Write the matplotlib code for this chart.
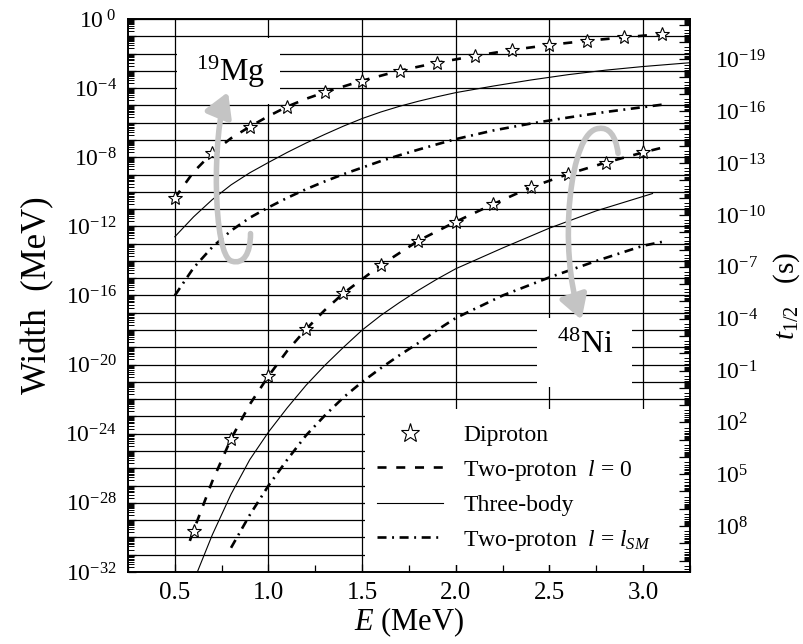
import numpy as np
import matplotlib
matplotlib.use("Agg")
import matplotlib.pyplot as plt
from matplotlib.patches import Rectangle, FancyArrowPatch
from matplotlib.path import Path
from matplotlib.ticker import FixedLocator, FuncFormatter, LogLocator, MultipleLocator, NullFormatter

plt.rcParams["font.family"] = ["Liberation Serif", "DejaVu Serif"]
plt.rcParams["mathtext.fontset"] = "custom"
plt.rcParams["mathtext.rm"] = "Liberation Serif"
plt.rcParams["mathtext.it"] = "Liberation Serif:italic"
plt.rcParams["mathtext.bf"] = "Liberation Serif:bold"
plt.rcParams["lines.scale_dashes"] = False

# hbar*ln2 in MeV s, for the half-life axis
HBAR_LN2 = 4.562e-22

# --- 19Mg, widths as log10(Width / MeV) ---
mg_star_e = [0.5, 0.7, 0.9, 1.1, 1.3, 1.5, 1.7, 1.9, 2.1, 2.3, 2.5, 2.7, 2.9, 3.1]
mg_star_lw = [-10.36, -7.75, -6.23, -5.07, -4.24, -3.57, -2.99, -2.53, -2.14, -1.79, -1.50, -1.26, -1.06, -0.87]

mg_l0_e = [0.5, 0.6, 0.7, 0.8, 0.9, 1.0, 1.1, 1.2, 1.3, 1.5, 1.7, 1.9, 2.1, 2.3, 2.5, 2.7, 2.9, 3.1]
mg_l0_lw = [-10.36, -8.85, -7.75, -6.9, -6.23, -5.62, -5.07, -4.62, -4.24, -3.57, -2.99, -2.53, -2.14,
            -1.79, -1.50, -1.26, -1.06, -0.87]

mg_3b_e = [0.5, 0.6, 0.7, 0.8, 0.9, 1.0, 1.1, 1.2, 1.3, 1.4, 1.5, 1.6, 1.7, 1.8, 1.9, 2.0, 2.2, 2.4, 2.6,
           2.8, 3.0, 3.25]
mg_3b_lw = [-12.6, -11.45, -10.45, -9.6, -8.9, -8.3, -7.72, -7.18, -6.68, -6.2, -5.76, -5.38, -5.05, -4.76,
            -4.5, -4.26, -3.88, -3.53, -3.22, -2.96, -2.75, -2.53]

mg_sm_e = [0.5, 0.6, 0.7, 0.8, 0.9, 1.0, 1.1, 1.2, 1.3, 1.4, 1.5, 1.6, 1.7, 1.8, 1.9, 2.0, 2.2, 2.4, 2.6,
           2.8, 3.0, 3.12]
mg_sm_lw = [-16.0, -14.4, -13.2, -12.25, -11.5, -10.9, -10.35, -9.85, -9.4, -8.98, -8.6, -8.22, -7.88,
            -7.56, -7.25, -6.95, -6.45, -6.05, -5.7, -5.38, -5.1, -4.93]

# --- 48Ni ---
ni_star_e = [0.6, 0.8, 1.0, 1.2, 1.4, 1.6, 1.8, 2.0, 2.2, 2.4, 2.6, 2.8, 3.0]
ni_star_lw = [-29.6, -24.3, -20.66, -17.96, -15.87, -14.24, -12.83, -11.73, -10.71, -9.74, -8.97, -8.31, -7.72]

ni_l0_e = [0.58, 0.6, 0.7, 0.8, 0.9, 1.0, 1.1, 1.2, 1.3, 1.4, 1.6, 1.8, 2.0, 2.2, 2.4, 2.6, 2.8, 3.0, 3.1]
ni_l0_lw = [-30.2, -29.6, -26.75, -24.3, -22.3, -20.66, -19.2, -17.96, -16.85, -15.87, -14.24, -12.83,
            -11.73, -10.71, -9.74, -8.97, -8.31, -7.72, -7.45]

ni_3b_e = [0.62, 0.7, 0.8, 0.9, 1.0, 1.1, 1.2, 1.3, 1.4, 1.5, 1.6, 1.7, 1.8, 1.9, 2.0, 2.25, 2.5, 2.75, 3.05]
ni_3b_lw = [-32.0, -29.85, -27.5, -25.5, -23.9, -22.5, -21.2, -20.05, -19.0, -18.0, -17.15, -16.4, -15.7,
            -15.05, -14.45, -13.25, -12.1, -11.1, -10.1]

ni_sm_e = [0.8, 0.9, 1.0, 1.1, 1.2, 1.3, 1.4, 1.5, 1.6, 1.7, 1.8, 1.9, 2.0, 2.25, 2.5, 2.75, 3.0, 3.1]
ni_sm_lw = [-30.6, -28.7, -27.0, -25.5, -24.1, -22.95, -21.9, -21.0, -20.2, -19.45, -18.75, -18.0, -17.3,
            -16.0, -14.95, -14.0, -13.12, -12.9]

legend_labels = ["Diproton", r"Two-proton  $l$ = 0", "Three-body", r"Two-proton  $l$ = $l_{SM}$"]


def w(lw):
    return 10.0 ** np.asarray(lw)


DASHED = (0, (6.5, 7.0))
DASHDOT = (0, (6.5, 4.0, 1.4, 4.0))

fig = plt.figure(figsize=(8.04, 6.44), dpi=100)
ax = fig.add_axes([0.1592, 0.1118, 0.6990, 0.8587])

ax.set_yscale("log")
ax.set_xlim(0.25, 3.25)
ax.set_ylim(1e-32, 1e0)

star_kw = dict(ls="none", marker="*", ms=10, mfc="white", mec="black", mew=0.8, zorder=3)
h_star, = ax.plot(mg_star_e, w(mg_star_lw), **star_kw)
ax.plot(ni_star_e, w(ni_star_lw), **star_kw)

h_l0, = ax.plot(mg_l0_e, w(mg_l0_lw), color="black", lw=1.9, ls=DASHED)
ax.plot(ni_l0_e, w(ni_l0_lw), color="black", lw=1.9, ls=DASHED)
h_3b, = ax.plot(mg_3b_e, w(mg_3b_lw), color="black", lw=0.8)
ax.plot(ni_3b_e, w(ni_3b_lw), color="black", lw=0.8)
h_sm, = ax.plot(mg_sm_e, w(mg_sm_lw), color="black", lw=1.9, ls=DASHDOT)
ax.plot(ni_sm_e, w(ni_sm_lw), color="black", lw=1.9, ls=DASHDOT)

# axes: x
ax.xaxis.set_major_locator(MultipleLocator(0.5))
ax.xaxis.set_minor_locator(MultipleLocator(0.25))
ax.xaxis.set_major_formatter(FuncFormatter(lambda v, p: f"{v:.1f}"))
ax.tick_params(axis="x", which="both", direction="in", top=False, labelsize=18, pad=7)
ax.tick_params(axis="x", which="major", length=6, width=0.9)
ax.tick_params(axis="x", which="minor", length=5, width=0.9)

# axes: y (width)
ax.yaxis.set_major_locator(FixedLocator(10.0 ** np.arange(-32, 1)))
ax.yaxis.set_minor_locator(LogLocator(base=10, subs=np.arange(2, 10), numticks=200))
ax.yaxis.set_minor_formatter(NullFormatter())


def left_fmt(v, pos):
    e = int(round(np.log10(v)))
    if e % 4:
        return ""
    return r"$10^{\ 0}$" if e == 0 else r"$10^{%d}$" % e


ax.yaxis.set_major_formatter(FuncFormatter(left_fmt))
ax.tick_params(axis="y", which="both", direction="in", right=False, labelsize=17, pad=8)
ax.tick_params(axis="y", which="major", length=6, width=0.9)
ax.tick_params(axis="y", which="minor", length=4, width=0.7)

ax.grid(True, which="major", color="black", lw=0.9)
for s in ax.spines.values():
    s.set_linewidth(1.2)

ax.set_xlabel("$E$ (MeV)", fontsize=22, labelpad=1)
ax.set_ylabel("Width  (MeV)", fontsize=25, labelpad=8)

# half-life axis on the right
ax2 = ax.twinx()
ax2.set_yscale("log")
ax2.set_ylim(HBAR_LN2 / 1e-32, HBAR_LN2 / 1e0)
ax2.yaxis.set_major_locator(FixedLocator(10.0 ** np.arange(-22, 12)))
ax2.yaxis.set_minor_locator(LogLocator(base=10, subs=np.arange(2, 10), numticks=200))
ax2.yaxis.set_minor_formatter(NullFormatter())


def right_fmt(v, pos):
    e = int(round(np.log10(v)))
    if e % 3 != 2 or e < -19 or e > 8:
        return ""
    return r"$10^{%d}$" % e


ax2.yaxis.set_major_formatter(FuncFormatter(right_fmt))
ax2.tick_params(axis="y", which="both", direction="in", labelsize=17, pad=18)
ax2.tick_params(axis="y", which="major", length=8, width=0.9)
ax2.tick_params(axis="y", which="minor", length=4, width=0.7)
ax2.set_ylabel("$t_{1/2}$   (s)", fontsize=21, labelpad=4)
for s in ax2.spines.values():
    s.set_linewidth(1.2)

# white patches behind labels and legend
for x0, y0, bw, bh in [(0.087, 0.846, 0.183, 0.120), (0.728, 0.335, 0.169, 0.124), (0.422, 0.012, 0.578, 0.283)]:
    ax.add_patch(Rectangle((x0, y0), bw, bh, transform=ax.transAxes, facecolor="white",
                           edgecolor="none", zorder=1.7))

ax.text(0.183, 0.904, r"$^{19}$Mg", transform=ax.transAxes, fontsize=23, ha="center", va="center", zorder=5)
ax.text(0.814, 0.410, r"$^{48}$Ni", transform=ax.transAxes, fontsize=23, ha="center", va="center", zorder=5)

# curved gray arrows
C4 = Path.CURVE4
mg_arrow = Path([(0.218, 0.612), (0.218, 0.575), (0.205, 0.556), (0.185, 0.562),
                 (0.150, 0.570), (0.150, 0.800), (0.178, 0.868)],
                [Path.MOVETO, C4, C4, C4, C4, C4, C4])
ni_arrow = Path([(0.872, 0.757), (0.868, 0.790), (0.855, 0.805), (0.838, 0.802),
                 (0.785, 0.800), (0.765, 0.580), (0.807, 0.456)],
                [Path.MOVETO, C4, C4, C4, C4, C4, C4])
for p in (mg_arrow, ni_arrow):
    ax.add_patch(FancyArrowPatch(path=p, arrowstyle="-|>,head_length=0.6,head_width=0.35",
                                 mutation_scale=24, lw=4, color="#c4c4c4", transform=ax.transAxes,
                                 zorder=4))

leg = ax.legend([h_star, h_l0, h_3b, h_sm], legend_labels, loc="center left",
                bbox_to_anchor=(0.443, 0.151), bbox_transform=ax.transAxes, frameon=False,
                fontsize=17, handlelength=2.8, handletextpad=0.85, borderpad=0, borderaxespad=0,
                labelspacing=0.5, markerscale=1.4)
leg.set_zorder(6)

fig.savefig("out.png", dpi=100)
